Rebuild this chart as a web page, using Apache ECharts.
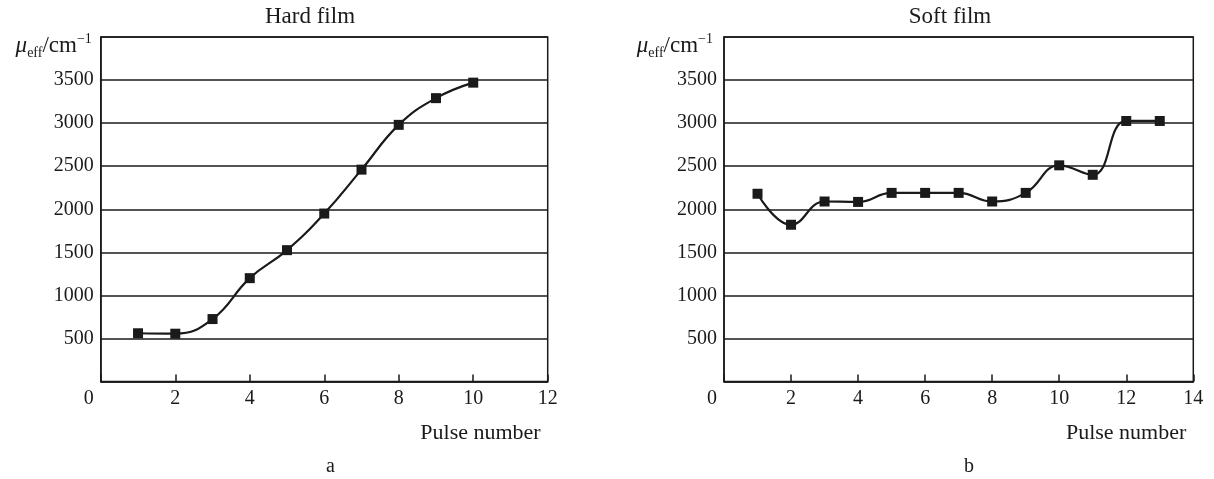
<!DOCTYPE html>
<html>
  <head>
    <meta charset="utf-8" />
    <title>Hard film / Soft film</title>
    <script src="https://cdn.jsdelivr.net/npm/echarts@6/dist/echarts.min.js"></script>
    <style>
      html,
      body {
        margin: 0;
        padding: 0;
        background: #fff;
      }
      #chart {
        width: 1214px;
        height: 479px;
      }
    </style>
  </head>
  <body>
    <div id="chart"></div>
    <script>
      // pulse numbers and mu_eff values
      var hardPulse = [1, 2, 3, 4, 5, 6, 7, 8, 9, 10];
      var hardMu = [560, 555, 725, 1200, 1525, 1950, 2460, 2980, 3290, 3470];
      var softPulse = [1, 2, 3, 4, 5, 6, 7, 8, 9, 10, 11, 12, 13];
      var softMu = [2180, 1820, 2090, 2085, 2190, 2190, 2190, 2090, 2190, 2510, 2400, 3025, 3025];
      var titles = ["Hard film", "Soft film"];
      var panelLabels = ["a", "b"];
      var xName = "Pulse number";

      var ink = "#1a1a1a";
      var serif = "'Liberation Serif', 'DejaVu Serif', serif";

      function pairs(xs, ys) {
        var out = [];
        for (var i = 0; i < xs.length; i++) out.push([xs[i], ys[i]]);
        return out;
      }

      function xAxis(idx, max) {
        return {
          type: "value",
          gridIndex: idx,
          min: 0,
          max: max,
          interval: 2,
          name: xName,
          nameLocation: "end",
          nameGap: -7,
          nameTextStyle: {
            color: ink,
            fontFamily: serif,
            fontSize: 22,
            align: "right",
            verticalAlign: "top",
            padding: [41, 0, 0, 0]
          },
          axisLine: { show: true, lineStyle: { color: ink, width: 1.5 } },
          axisTick: { show: true, inside: true, length: 7, lineStyle: { color: ink, width: 1.5 } },
          axisLabel: {
            color: ink,
            fontFamily: serif,
            fontSize: 20,
            margin: 7,
            showMinLabel: true,
            showMaxLabel: true,
            formatter: function (v) {
              return v === 0 ? "{zero|0}" : String(v);
            },
            rich: {
              zero: { fontFamily: serif, fontSize: 20, color: ink, padding: [0, 24, 0, 0] }
            }
          },
          splitLine: { show: false }
        };
      }

      function yAxis(idx, gap) {
        return {
          type: "value",
          gridIndex: idx,
          min: 0,
          max: 4000,
          interval: 500,
          name: "{mu|μ}{sub|eff}{n|/cm}{sup|−1}",
          nameLocation: "end",
          nameGap: -9,
          nameTextStyle: {
            align: "right",
            verticalAlign: "middle",
            padding: [0, gap, 0, 0],
            rich: {
              mu: { fontFamily: serif, fontStyle: "italic", fontSize: 23, lineHeight: 28, color: ink },
              sub: { fontFamily: serif, fontSize: 14, lineHeight: 14, verticalAlign: "bottom", color: ink },
              n: { fontFamily: serif, fontSize: 23, lineHeight: 28, color: ink },
              sup: { fontFamily: serif, fontSize: 14, lineHeight: 14, verticalAlign: "top", color: ink }
            }
          },
          axisLine: { show: true, lineStyle: { color: ink, width: 1.5 } },
          axisTick: { show: false },
          axisLabel: {
            color: ink,
            fontFamily: serif,
            fontSize: 20,
            margin: 7,
            formatter: function (v) {
              return v === 0 || v === 4000 ? "" : String(v);
            }
          },
          splitLine: { show: true, lineStyle: { color: ink, width: 1.5 } }
        };
      }

      function lineSeries(idx, xs, ys) {
        return {
          type: "line",
          xAxisIndex: idx,
          yAxisIndex: idx,
          data: pairs(xs, ys),
          smooth: 0.45,
          symbol: "rect",
          symbolSize: 10,
          itemStyle: { color: ink },
          lineStyle: { color: ink, width: 2.2 },
          animation: false
        };
      }

      function label(text, x, y, size) {
        return {
          type: "text",
          x: x,
          y: y,
          style: {
            text: text,
            fill: ink,
            font: size + "px " + serif,
            align: "center",
            verticalAlign: "middle"
          }
        };
      }

      var chart = echarts.init(document.getElementById("chart"), null, { renderer: "canvas" });
      chart.setOption({
        animation: false,
        backgroundColor: "#fff",
        grid: [
          { left: 100.8, right: 666.3, top: 37, bottom: 97.5, show: true, borderColor: ink, borderWidth: 1.5 },
          { left: 724, right: 20.7, top: 37, bottom: 97.5, show: true, borderColor: ink, borderWidth: 1.5 }
        ],
        xAxis: [xAxis(0, 12), xAxis(1, 14)],
        yAxis: [yAxis(0, 9), yAxis(1, 11)],
        series: [lineSeries(0, hardPulse, hardMu), lineSeries(1, softPulse, softMu)],
        graphic: [
          label(titles[0], 310, 17, 23),
          label(titles[1], 950, 17, 23),
          label(panelLabels[0], 330.5, 467, 20),
          label(panelLabels[1], 969, 467, 20)
        ]
      });
    </script>
  </body>
</html>
